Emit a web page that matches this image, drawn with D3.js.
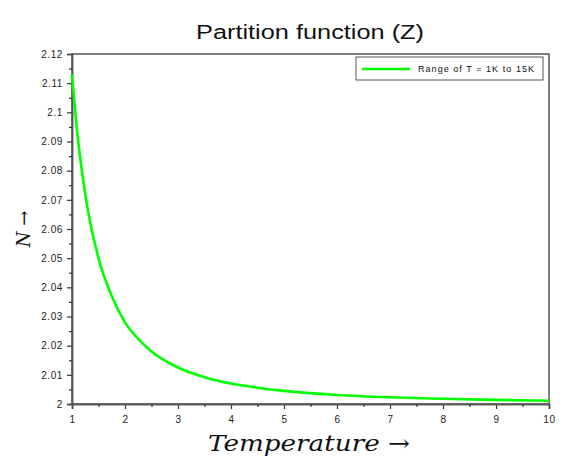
<!DOCTYPE html>
<html><head><meta charset="utf-8">
<script src="https://cdn.jsdelivr.net/npm/d3@7"></script>
<style>body{margin:0;background:#fff}svg{display:block}</style>
</head><body>
<script>
const temperature = [1, 1.1, 1.25, 1.5, 1.75, 2, 2.25, 2.5, 3, 3.5, 4, 4.5, 5, 6, 7, 8, 9, 10];
const partitionN = [2.113, 2.093, 2.072, 2.050, 2.037, 2.028, 2.0223, 2.018, 2.0125, 2.0092, 2.007, 2.0056, 2.0045, 2.0031, 2.0023, 2.0018, 2.0014, 2.0011];
const xTicks = [1,2,3,4,5,6,7,8,9,10];
const yTicks = [2, 2.01, 2.02, 2.03, 2.04, 2.05, 2.06, 2.07, 2.08, 2.09, 2.1, 2.11, 2.12];
const yTickLabels = ["2","2.01","2.02","2.03","2.04","2.05","2.06","2.07","2.08","2.09","2.1","2.11","2.12"];
const legendLabel = "Range of T = 1K to 15K";

const W = 568, H = 459;
const m = {left: 72, right: 19, top: 54, bottom: 55};
const svg = d3.select("body").append("svg").attr("width", W).attr("height", H);
const x = d3.scaleLinear().domain([1, 10]).range([m.left, W - m.right]);
const y = d3.scaleLinear().domain([2, 2.12]).range([H - m.bottom, m.top]);
const axisCol = "#555";
const sans = "Liberation Sans, Arial, sans-serif";

svg.append("rect").attr("x", x(1)).attr("y", y(2.12)).attr("width", x(10) - x(1)).attr("height", y(2) - y(2.12))
  .attr("fill", "none").attr("stroke", axisCol).attr("stroke-width", 1.5);

const xMinor = d3.range(1.5, 10, 1);
const yMinor = d3.range(0, 12).map(i => 2.005 + i * 0.01);
const gx = svg.append("g").attr("transform", `translate(0,${y(2)})`)
  .call(d3.axisBottom(x).tickValues(xTicks).tickFormat(d3.format("d")).tickSize(5).tickPadding(7));
const gxm = svg.append("g").attr("transform", `translate(0,${y(2)})`)
  .call(d3.axisBottom(x).tickValues(xMinor).tickFormat("").tickSize(3));
const gy = svg.append("g").attr("transform", `translate(${x(1)},0)`)
  .call(d3.axisLeft(y).tickValues(yTicks).tickFormat((d, i) => yTickLabels[i]).tickSize(5).tickPadding(4));
const gym = svg.append("g").attr("transform", `translate(${x(1)},0)`)
  .call(d3.axisLeft(y).tickValues(yMinor).tickFormat("").tickSize(3));
[gx, gxm, gy, gym].forEach(g => {
  g.select(".domain").attr("stroke", axisCol).attr("stroke-width", 1.5);
  g.selectAll(".tick line").attr("stroke", "#333").attr("stroke-width", 1.2);
  g.selectAll("text").attr("font-family", sans).attr("font-size", 10).attr("letter-spacing", 0.6).attr("fill", "#222");
});

svg.append("path").datum(temperature.map((t, i) => [t, partitionN[i]]))
  .attr("fill", "none").attr("stroke", "#00ff00").attr("stroke-width", 2.6)
  .attr("d", d3.line().x(d => x(d[0])).y(d => y(d[1])).curve(d3.curveMonotoneX));

const lg = svg.append("g");
lg.append("rect").attr("x", 356).attr("y", 57).attr("width", 187).attr("height", 23)
  .attr("fill", "#fff").attr("stroke", "#555").attr("stroke-width", 1);
lg.append("line").attr("x1", 362).attr("x2", 410).attr("y1", 69).attr("y2", 69)
  .attr("stroke", "#00ff00").attr("stroke-width", 2.6);
lg.append("text").attr("x", 418).attr("y", 72).attr("font-family", sans)
  .attr("font-size", 9).attr("fill", "#111").attr("textLength", 116).attr("lengthAdjust", "spacing")
  .text(legendLabel);

svg.append("text").attr("x", 196).attr("y", 39)
  .attr("font-family", sans).attr("font-size", 20).attr("fill", "#111")
  .attr("textLength", 228).attr("lengthAdjust", "spacingAndGlyphs")
  .text("Partition function (Z)");

svg.append("text").attr("x", 208).attr("y", 451)
  .attr("font-family", "DejaVu Serif, Liberation Serif, serif").attr("font-style", "italic")
  .attr("font-size", 23).attr("fill", "#111")
  .attr("textLength", 202).attr("lengthAdjust", "spacingAndGlyphs")
  .html('Temperature <tspan font-style="normal">→</tspan>');

svg.append("text").attr("transform", "translate(30,229) rotate(-90)").attr("text-anchor", "middle")
  .attr("font-family", "DejaVu Serif, Liberation Serif, serif").attr("font-style", "italic")
  .attr("font-size", 18).attr("fill", "#111")
  .html('N <tspan font-style="normal">→</tspan>');
</script>
</body></html>
